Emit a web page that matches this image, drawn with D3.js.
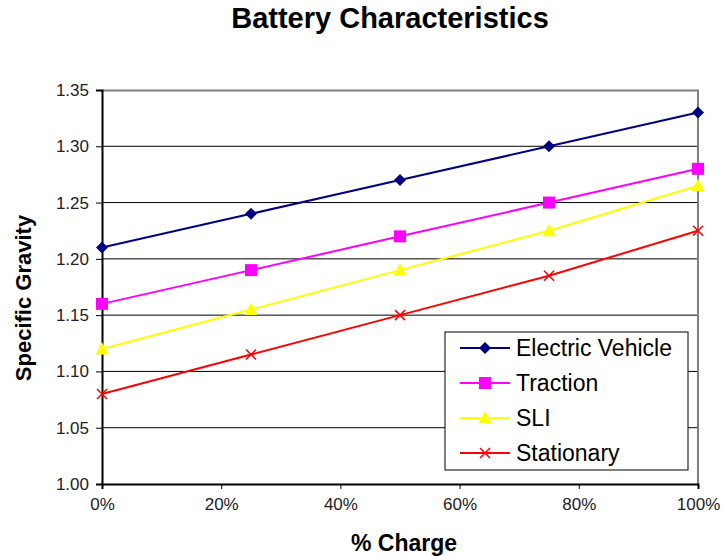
<!DOCTYPE html>
<html>
<head>
<meta charset="utf-8">
<script src="https://cdn.jsdelivr.net/npm/d3@7"></script>
<style>
  body { margin: 0; background: #fff; }
  text { font-family: "Liberation Sans", Arial, sans-serif; }
</style>
</head>
<body>
<div id="main"></div>
<script>
const charges = [0, 25, 50, 75, 100];
const electricVehicle = [1.21, 1.24, 1.27, 1.30, 1.33];
const traction = [1.16, 1.19, 1.22, 1.25, 1.28];
const sli = [1.12, 1.155, 1.19, 1.225, 1.265];
const stationary = [1.08, 1.115, 1.15, 1.185, 1.225];
const seriesNames = ["Electric Vehicle", "Traction", "SLI", "Stationary"];
const xTicks = [0, 20, 40, 60, 80, 100];
const yTicks = [1.00, 1.05, 1.10, 1.15, 1.20, 1.25, 1.30, 1.35];

const seriesValues = [electricVehicle, traction, sli, stationary];
const colors = ["#000080", "#ff00ff", "#ffff00", "#ff0000"];
const shapes = ["diamond", "square", "triangle", "cross"];

const W = 726, H = 556;
const m = {left: 102, top: 90, right: 28, bottom: 72};
const w = W - m.left - m.right, h = H - m.top - m.bottom;

const svg = d3.select("#main").append("svg")
  .attr("width", W).attr("height", H);

const x = d3.scaleLinear().domain([0, 100]).range([0, w]);
const y = d3.scaleLinear().domain([1.00, 1.35]).range([h, 0]);

const g = svg.append("g").attr("transform", `translate(${m.left},${m.top})`);

// gridlines
g.selectAll(".grid").data(yTicks.slice(1, -1)).join("line")
  .attr("x1", 0).attr("x2", w)
  .attr("y1", d => y(d)).attr("y2", d => y(d))
  .attr("stroke", "#000").attr("stroke-width", 1);

// frame top/right grey
g.append("path")
  .attr("d", `M0,0.5H${w}V${h}`)
  .attr("fill", "none").attr("stroke", "#808080").attr("stroke-width", 2);

// axes
const yAxis = g.append("g").call(d3.axisLeft(y).tickValues(yTicks).tickFormat(d3.format(".2f")).tickSizeOuter(0).tickSize(6));
const xAxis = g.append("g").attr("transform", `translate(0,${h})`)
  .call(d3.axisBottom(x).tickValues(xTicks).tickFormat(d => d + "%").tickSizeOuter(0).tickSize(5));
[yAxis, xAxis].forEach(a => {
  a.select(".domain").attr("stroke", "#000").attr("stroke-width", 2);
  a.selectAll(".tick line").attr("stroke", "#000");
  a.selectAll(".tick text").attr("fill", "#222").style("font-size", "17px")
    .style("font-family", "'Liberation Sans', Arial, sans-serif");
});
yAxis.selectAll(".tick text").attr("x", -13);
xAxis.selectAll(".tick text").attr("y", 14);

function marker(sel, shape, color) {
  if (shape === "diamond") {
    sel.append("path").attr("d", "M0,-6L6,0L0,6L-6,0Z").attr("fill", color);
  } else if (shape === "square") {
    sel.append("rect").attr("x", -6).attr("y", -6).attr("width", 12).attr("height", 12).attr("fill", color);
  } else if (shape === "triangle") {
    sel.append("path").attr("d", "M0,-7L6.5,5.5L-6.5,5.5Z").attr("fill", color);
  } else {
    sel.append("path").attr("d", "M-5,-5L5,5M-5,5L5,-5").attr("stroke", color).attr("stroke-width", 1.5).attr("fill", "none");
  }
}

const line = d3.line().x((d, i) => x(charges[i])).y(d => y(d));

seriesValues.forEach((vals, s) => {
  g.append("path").datum(vals).attr("d", line)
    .attr("fill", "none").attr("stroke", colors[s]).attr("stroke-width", 2);
  g.selectAll(".m" + s).data(vals).join("g")
    .attr("transform", (d, i) => `translate(${x(charges[i])},${y(d)})`)
    .each(function() { marker(d3.select(this), shapes[s], colors[s]); });
});

// legend
const lg = svg.append("g").attr("transform", "translate(445,332)");
lg.append("rect").attr("width", 243).attr("height", 138)
  .attr("fill", "#fff").attr("stroke", "#000").attr("stroke-width", 1);
seriesNames.forEach((name, i) => {
  const row = lg.append("g").attr("transform", `translate(0,${16 + i * 35})`);
  row.append("line").attr("x1", 15).attr("x2", 65).attr("stroke", colors[i]).attr("stroke-width", 2);
  const mk = row.append("g").attr("transform", "translate(40,0)");
  marker(mk, shapes[i], colors[i]);
  row.append("text").attr("x", 71).attr("y", 8).text(name)
    .style("font-size", "23px").attr("fill", "#000");
});

// titles
svg.append("text").attr("x", 390).attr("y", 28).attr("text-anchor", "middle")
  .style("font-size", "29px").style("font-weight", "bold").text("Battery Characteristics");
svg.append("text").attr("x", 404).attr("y", 551).attr("text-anchor", "middle")
  .style("font-size", "23px").style("font-weight", "bold").text("% Charge");
svg.append("text").attr("transform", "translate(31,298) rotate(-90)").attr("text-anchor", "middle")
  .style("font-size", "22px").style("font-weight", "bold").text("Specific Gravity");
</script>
</body>
</html>
